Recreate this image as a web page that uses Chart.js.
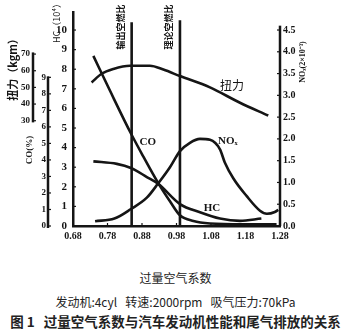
<!DOCTYPE html>
<html>
<head>
<meta charset="utf-8">
<script src="https://cdn.jsdelivr.net/npm/chart.js@4.4.1/dist/chart.umd.min.js"></script>
<style>
  body { margin: 0; background: #fff; }
  #wrap { position: relative; width: 351px; height: 334px; }
  #chart { position: absolute; left: 0; top: 0; }
  .txt { position: absolute; left: 0; width: 351px; text-align: center; color: #222;
         font-family: "Noto Sans CJK SC", sans-serif; white-space: pre; }
</style>
</head>
<body>
<div id="wrap">
  <canvas id="chart" width="351" height="242"></canvas>
  <div class="txt" style="top:269px; font-size:12px; line-height:18px;">过量空气系数</div>
  <div class="txt" style="top:293px; font-size:12px; line-height:18px;">发动机:4cyl   转速:2000rpm   吸气压力:70kPa</div>
  <div class="txt" style="top:311px; font-size:13.5px; line-height:20px; font-weight:bold;">图 1   过量空气系数与汽车发动机性能和尾气排放的关系</div>
</div>
<script>
// excess air ratio ticks
const xTicks = [0.68, 0.78, 0.88, 0.98, 1.08, 1.18, 1.28];
const hcTicks = [0, 1, 2, 3, 4, 5, 6, 7, 8, 9, 10];
const noxTicks = [0, 0.5, 1.0, 1.5, 2.0, 2.5, 3.0, 3.5, 4.0, 4.5];
const coTicks = [0, 1, 2, 3, 4, 5, 6, 7, 8, 9];
const torqueTicks = [30, 40, 50, 60, 70];

// torque (kgm)
const lambdaTorque = [0.734, 0.763, 0.797, 0.845, 0.903, 0.942, 0.99, 1.077, 1.164, 1.246];
const torque = [53.0, 58.2, 61.1, 63.0, 63.0, 60.7, 56.8, 50.0, 40.8, 33.1];

// CO (%)
const lambdaCO = [0.739, 0.787, 0.848, 0.884, 0.927, 0.961, 0.99, 1.029, 1.077, 1.173, 1.27];
const co = [10.3, 8.2, 5.6, 4.2, 2.6, 1.5, 0.65, 0.3, 0.15, 0.1, 0.1];

// HC (10^4)
const lambdaHC = [0.739, 0.807, 0.848, 0.894, 0.927, 0.99, 1.048, 1.106, 1.164, 1.226];
const hc = [3.3, 3.17, 2.96, 2.5, 2.15, 1.12, 0.7, 0.38, 0.26, 0.38];

// NOx (2x10^-3)
const lambdaNOx = [0.744, 0.80, 0.848, 0.894, 0.927, 0.961, 0.99, 1.019, 1.048, 1.077, 1.106, 1.12, 1.145, 1.183, 1.222, 1.242, 1.265, 1.275];
const nox = [0.11, 0.17, 0.39, 0.65, 0.98, 1.35, 1.72, 1.91, 2.0, 1.98, 1.76, 1.46, 1.09, 0.69, 0.35, 0.28, 0.32, 0.37];

// marked air-fuel ratios
const markLambda = [0.85, 0.99];
const markTop = [10.4, 10.5];
const markNames = ["输出空燃比", "理论空燃比"];

const INK = "#151515";
const numFont = { family: "'Liberation Serif', serif", size: 10, weight: "bold" };

function pts(xs, ys) {
    return xs.map((v, i) => ({ x: v, y: ys[i] }));
}

function curve(data, axis) {
    return {
        data: data,
        yAxisID: axis,
        borderColor: INK,
        borderWidth: 2.6,
        pointRadius: 0,
        fill: false,
        cubicInterpolationMode: "monotone"
    };
}

const datasets = [
    curve(pts(lambdaTorque, torque), "tq"),
    curve(pts(lambdaCO, co), "co"),
    curve(pts(lambdaHC, hc), "hc"),
    curve(pts(lambdaNOx, nox), "nox")
];
markLambda.forEach((l, i) => {
    datasets.push({
        data: [{ x: l, y: 0 }, { x: l, y: markTop[i] }],
        yAxisID: "hc",
        borderColor: INK,
        borderWidth: 2.6,
        pointRadius: 0,
        tension: 0
    });
});

function vText(ctx, str, x, y, font) {
    ctx.save();
    ctx.translate(x, y);
    ctx.rotate(-Math.PI / 2);
    ctx.font = font;
    ctx.textAlign = "center";
    ctx.textBaseline = "middle";
    ctx.fillText(str, 0, 0);
    ctx.restore();
}

// extra axes, inner tick marks and labels
const extraAxes = {
    id: "extraAxes",
    afterDraw(chart) {
        const ctx = chart.ctx;
        const s = chart.scales;
        const area = chart.chartArea;
        ctx.save();
        ctx.strokeStyle = INK;
        ctx.fillStyle = INK;

        // CO axis
        const coX = 48;
        ctx.lineWidth = 2.5;
        ctx.beginPath();
        ctx.moveTo(coX, s.co.getPixelForValue(0) + 2);
        ctx.lineTo(coX, s.co.getPixelForValue(9) - 1);
        ctx.stroke();
        ctx.lineWidth = 1.2;
        ctx.font = "bold 9px 'Liberation Serif', serif";
        ctx.textAlign = "right";
        ctx.textBaseline = "middle";
        coTicks.forEach(v => {
            const y = s.co.getPixelForValue(v);
            ctx.beginPath(); ctx.moveTo(coX, y); ctx.lineTo(coX + 3, y); ctx.stroke();
            ctx.fillText(String(v), coX - 2, y);
        });

        // torque axis
        const tqX = 33;
        ctx.lineWidth = 2.5;
        ctx.beginPath();
        ctx.moveTo(tqX, s.tq.getPixelForValue(29));
        ctx.lineTo(tqX, s.tq.getPixelForValue(71));
        ctx.stroke();
        ctx.lineWidth = 1.2;
        torqueTicks.forEach(v => {
            const y = s.tq.getPixelForValue(v);
            ctx.beginPath(); ctx.moveTo(tqX, y); ctx.lineTo(tqX + 3, y); ctx.stroke();
            ctx.fillText(String(v), tqX - 3, y);
        });

        // NOx axis line
        ctx.lineWidth = 2.5;
        ctx.beginPath();
        ctx.moveTo(area.right, area.bottom);
        ctx.lineTo(area.right, s.nox.getPixelForValue(4.6));
        ctx.stroke();

        // inner tick marks
        ctx.lineWidth = 1.2;
        hcTicks.forEach(v => {
            const y = s.hc.getPixelForValue(v);
            ctx.beginPath(); ctx.moveTo(area.left, y); ctx.lineTo(area.left + 3, y); ctx.stroke();
        });
        noxTicks.forEach(v => {
            const y = s.nox.getPixelForValue(v);
            ctx.beginPath(); ctx.moveTo(area.right, y); ctx.lineTo(area.right - 3, y); ctx.stroke();
        });
        xTicks.forEach(v => {
            const x = s.x.getPixelForValue(v);
            ctx.beginPath(); ctx.moveTo(x, area.bottom); ctx.lineTo(x, area.bottom - 3); ctx.stroke();
        });

        // axis titles
        vText(ctx, "扭力（kgm）", 13, 67, "bold 11px 'Noto Sans CJK SC', sans-serif");
        vText(ctx, "CO(%)", 30, 150, "bold 9px 'Liberation Serif', serif");
        vText(ctx, "HC（10⁴）", 57, 21, "9px 'Noto Sans CJK SC', sans-serif");
        vText(ctx, "NOₓ(2×10⁻³)", 303, 62, "bold 8px 'Liberation Serif', serif");

        // marked ratio labels
        markLambda.forEach((l, i) => {
            vText(ctx, markNames[i], s.x.getPixelForValue(l) - 11, 27, "bold 9px 'Noto Sans CJK SC', sans-serif");
        });

        // curve labels
        ctx.textAlign = "center";
        ctx.textBaseline = "middle";
        ctx.font = "12px 'Noto Sans CJK SC', sans-serif";
        ctx.fillText("扭力", s.x.getPixelForValue(1.141), s.tq.getPixelForValue(51.4));
        ctx.font = "bold 11px 'Liberation Serif', serif";
        ctx.fillText("CO", s.x.getPixelForValue(0.897), s.co.getPixelForValue(5.09));
        ctx.fillText("HC", s.x.getPixelForValue(1.083), s.hc.getPixelForValue(0.89));
        ctx.fillText("NOₓ", s.x.getPixelForValue(1.129), s.nox.getPixelForValue(1.95));
        ctx.restore();
    }
};

new Chart(document.getElementById("chart"), {
    type: "line",
    data: { datasets: datasets },
    options: {
        responsive: false,
        animation: false,
        parsing: true,
        layout: { padding: { left: 43, right: 46, top: 5, bottom: 0 } },
        plugins: { legend: { display: false }, tooltip: { enabled: false } },
        scales: {
            x: {
                type: "linear",
                min: 0.68,
                max: 1.28,
                afterBuildTicks: sc => { sc.ticks = xTicks.map(v => ({ value: v })); },
                afterFit: sc => { sc.height = 16; },
                ticks: { color: INK, font: numFont, padding: 4, maxRotation: 0, callback: v => v.toFixed(2) },
                grid: { display: false, drawTicks: false },
                border: { color: INK, width: 2.5 }
            },
            hc: {
                position: "left",
                min: 0,
                max: 10.89,
                afterBuildTicks: sc => { sc.ticks = hcTicks.map(v => ({ value: v })); },
                afterFit: sc => { sc.width = 30; },
                ticks: { color: INK, font: { family: "'Liberation Serif', serif", size: 11, weight: "bold" }, padding: 6 },
                grid: { display: false, drawTicks: false },
                border: { color: INK, width: 2.5 }
            },
            nox: {
                position: "right",
                min: 0,
                max: 4.9,
                afterBuildTicks: sc => { sc.ticks = noxTicks.map(v => ({ value: v })); },
                afterFit: sc => { sc.width = 25; },
                ticks: { color: INK, font: numFont, padding: 3, callback: v => v.toFixed(1) },
                grid: { display: false, drawTicks: false },
                border: { display: false }
            },
            co: { display: false, min: 0, max: 12.92 },
            tq: { display: false, min: -33.2, max: 94.9 }
        }
    },
    plugins: [extraAxes]
});
</script>
</body>
</html>
